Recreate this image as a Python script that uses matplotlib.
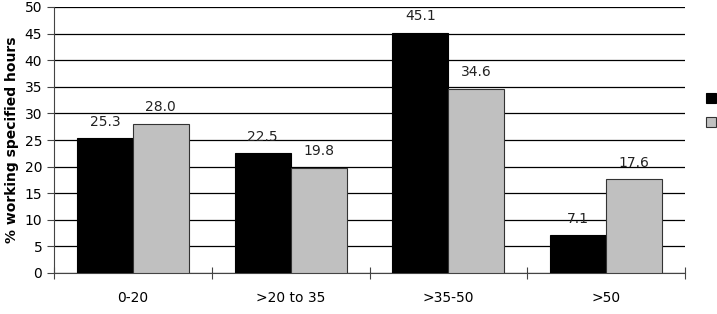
import matplotlib
matplotlib.use("Agg")
import matplotlib.pyplot as plt
import numpy as np

categories = ["0-20", ">20 to 35", ">35-50", ">50"]
series_a = [25.3, 22.5, 45.1, 7.1]
series_b = [28.0, 19.8, 34.6, 17.6]
yticks = [0, 5, 10, 15, 20, 25, 30, 35, 40, 45, 50]

plt.rcParams['font.family'] = ['DejaVu Sans']
fig = plt.figure(figsize=(7.17, 3.14), dpi=100)
ax = fig.add_axes([54/717, 1-273/314, (685-54)/717, (273-7)/314])

x = np.arange(len(categories))
w = 56/158
b1 = ax.bar(x - w/2, series_a, width=w, color="black", edgecolor="black", linewidth=0.8, zorder=3)
b2 = ax.bar(x + w/2, series_b, width=w, color="#c0c0c0", edgecolor="#333333", linewidth=0.8, zorder=3)

for bars, vals in ((b1, series_a), (b2, series_b)):
    for r, v in zip(bars, vals):
        ax.annotate(f"{v:.1f}", (r.get_x() + r.get_width()/2, v), xytext=(0, 7),
                    textcoords="offset points", ha="center", va="bottom",
                    fontsize=10, color="#222222")

ax.set_ylim(0, 50)
ax.set_xlim(-0.5, len(categories) - 0.5)
ax.set_yticks(yticks)
ax.yaxis.grid(True, color="black", linewidth=0.9, zorder=0)
ax.set_axisbelow(True)
ax.set_xticks(np.arange(len(categories) + 1) - 0.5)
ax.set_xticklabels([])
ax.set_xticks(x, minor=True)
ax.set_xticklabels(categories, minor=True)
ax.tick_params(axis="x", which="minor", length=0, pad=13, labelsize=10)
ax.tick_params(axis="x", which="major", direction="inout", length=8, width=0.8, color="#444444")
ax.tick_params(axis="y", direction="out", length=5, width=0.8, labelsize=10, color="#444444")
for s in ("top", "right"):
    ax.spines[s].set_visible(False)
for s in ("left", "bottom"):
    ax.spines[s].set_color("#444444")
    ax.spines[s].set_linewidth(0.8)
ax.set_ylabel("% working specified hours", fontsize=10, fontweight="bold", labelpad=4)

fig.legend([b1, b2], [" ", " "], loc="center left", bbox_to_anchor=(699/717, 1-111/314),
           frameon=False, handlelength=0.75, handleheight=0.75, labelspacing=0.75,
           borderpad=0, handletextpad=0.2, fontsize=10)

fig.savefig("out.png", dpi=100)
